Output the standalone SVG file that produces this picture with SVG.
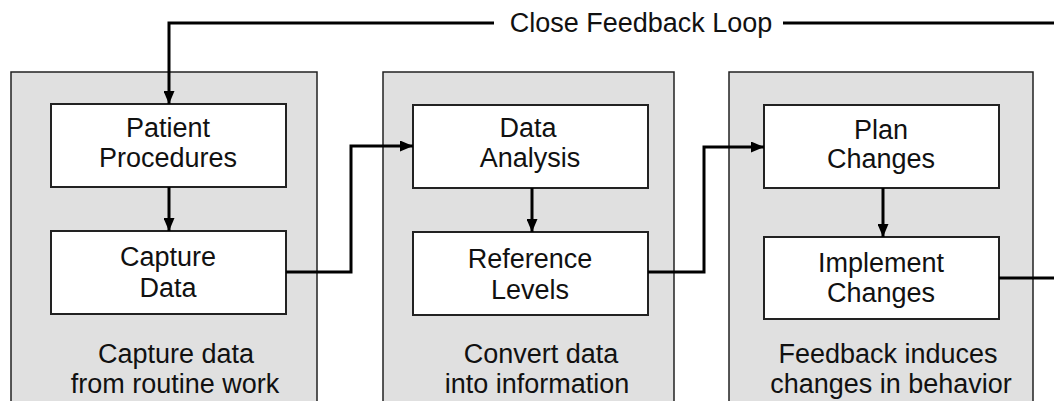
<svg xmlns="http://www.w3.org/2000/svg" width="1054" height="401" viewBox="0 0 1054 401">
<style>
.panel{fill:#e0e0e0;stroke:#222;stroke-width:1.5}
.box{fill:#fff;stroke:#222;stroke-width:2}
.t{font-family:"Liberation Sans",Arial,sans-serif;font-size:27px;fill:#111;text-anchor:middle}
.c{fill:none;stroke:#000;stroke-width:3}
</style>
<defs>
<marker id="ah" viewBox="0 0 13 11" refX="13" refY="5.5" markerWidth="13" markerHeight="11" markerUnits="userSpaceOnUse" orient="auto">
<path d="M0,0 L13,5.5 L0,11 Z" fill="#000"/>
</marker>
</defs>
<g id="panel1">
<rect class="panel" x="11" y="72" width="306" height="340"/>
<text class="t" x="176" y="363">Capture data</text>
<text class="t" x="175" y="393">from routine work</text>
</g>
<g id="panel2">
<rect class="panel" x="383" y="72" width="291" height="340"/>
<text class="t" x="541" y="363">Convert data</text>
<text class="t" x="537" y="393">into information</text>
</g>
<g id="panel3">
<rect class="panel" x="729" y="72" width="304" height="340"/>
<text class="t" x="888" y="363">Feedback induces</text>
<text class="t" x="891" y="393">changes in behavior</text>
</g>
<g id="patient-procedures">
<rect class="box" x="51" y="104" width="235" height="83"/>
<text class="t" x="168" y="137">Patient</text>
<text class="t" x="168" y="167">Procedures</text>
</g>
<g id="capture-data">
<rect class="box" x="51" y="231" width="235" height="83"/>
<text class="t" x="168" y="266">Capture</text>
<text class="t" x="168" y="297">Data</text>
</g>
<g id="data-analysis">
<rect class="box" x="413" y="105" width="235" height="83"/>
<text class="t" x="528" y="137">Data</text>
<text class="t" x="530" y="167">Analysis</text>
</g>
<g id="reference-levels">
<rect class="box" x="413" y="232" width="235" height="83"/>
<text class="t" x="530" y="268">Reference</text>
<text class="t" x="530" y="299">Levels</text>
</g>
<g id="plan-changes">
<rect class="box" x="764" y="105" width="235" height="83"/>
<text class="t" x="881" y="139">Plan</text>
<text class="t" x="881" y="168">Changes</text>
</g>
<g id="implement-changes">
<rect class="box" x="764" y="237" width="235" height="82"/>
<text class="t" x="881" y="272">Implement</text>
<text class="t" x="881" y="302">Changes</text>
</g>
<g id="feedback-label">
<text class="t" x="641" y="32">Close Feedback Loop</text>
</g>
<g id="connectors">
<path class="c" d="M169,187 V231" marker-end="url(#ah)"/>
<path class="c" d="M532,188 V232" marker-end="url(#ah)"/>
<path class="c" d="M883,188 V237" marker-end="url(#ah)"/>
<path class="c" d="M286,272 H351 V146 H413" marker-end="url(#ah)"/>
<path class="c" d="M648,272 H704 V147 H764" marker-end="url(#ah)"/>
<path class="c" d="M999,278 H1064 V23 H783"/>
<path class="c" d="M494,23 H169 V104" marker-end="url(#ah)"/>
</g>
</svg>
